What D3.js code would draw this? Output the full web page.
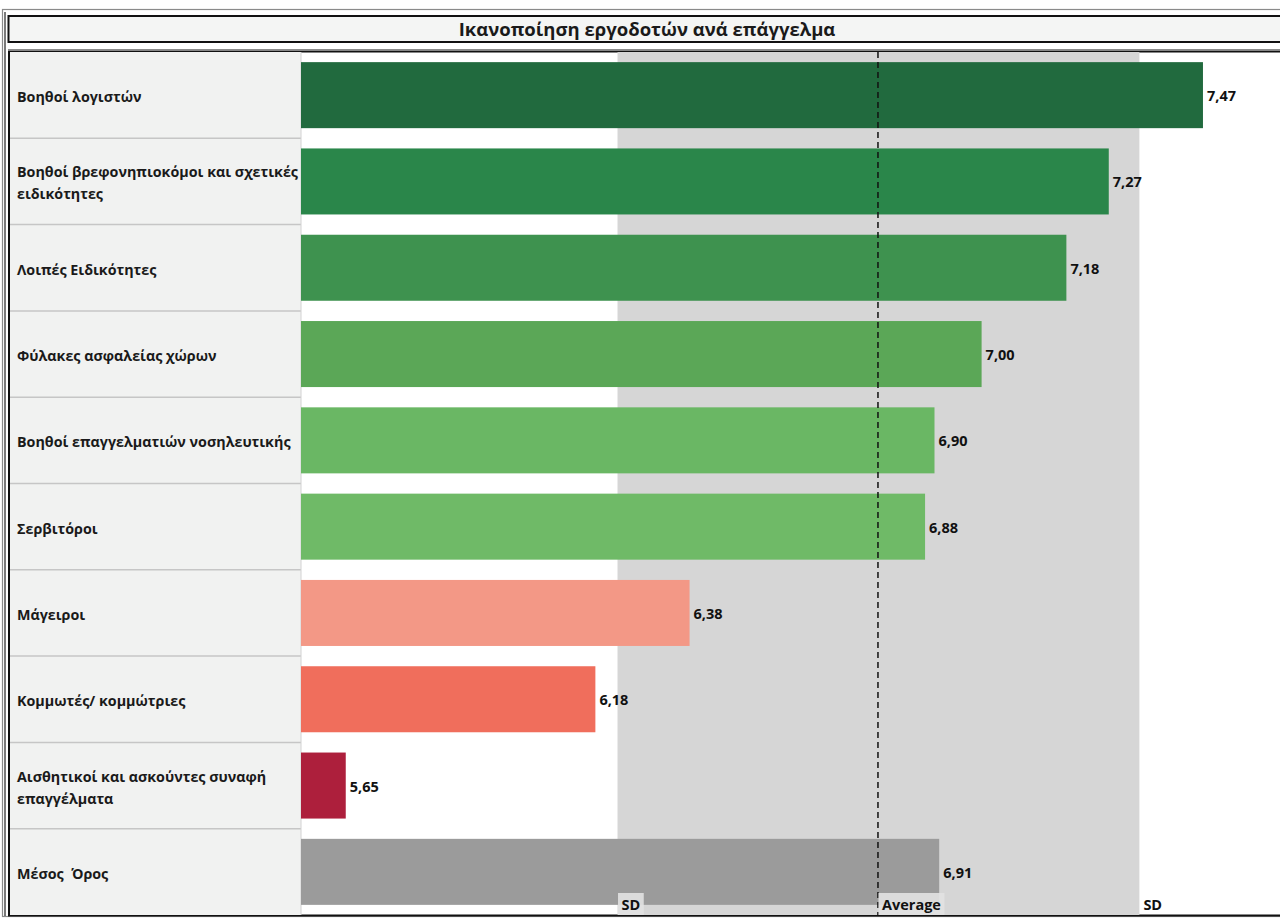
<!DOCTYPE html>
<html>
<head>
<meta charset="utf-8">
<script src="https://cdn.jsdelivr.net/npm/d3@7"></script>
<style>
  html, body { margin: 0; padding: 0; background: #ffffff; }
  svg { display: block; }
  text { font-family: "Open Sans", "Noto Sans", sans-serif; white-space: pre; }
</style>
</head>
<body>
<svg id="chart" width="1280" height="918"></svg>
<script>
// ---------- data ----------
const title = "Ικανοποίηση εργοδοτών ανά επάγγελμα";
const categories = [
  "Βοηθοί λογιστών",
  "Βοηθοί βρεφονηπιοκόμοι και σχετικές\nειδικότητες",
  "Λοιπές Ειδικότητες",
  "Φύλακες ασφαλείας χώρων",
  "Βοηθοί επαγγελματιών νοσηλευτικής",
  "Σερβιτόροι",
  "Μάγειροι",
  "Κομμωτές/ κομμώτριες",
  "Αισθητικοί και ασκούντες συναφή\nεπαγγέλματα",
  "Μέσος  Όρος"
];
const values = [7.47, 7.27, 7.18, 7.00, 6.90, 6.88, 6.38, 6.18, 5.65, 6.91];
const refLabels = ["SD", "Average", "SD"];
const refValues = [6.227, 6.78, 7.335];

// ---------- style ----------
const barColors = ["#216a3e", "#2a864a", "#3e924f", "#5ba757", "#6ab764", "#6fba67",
                   "#f39886", "#f06e5c", "#ad1f3c", "#9b9b9b"];

const svg = d3.select("#chart");
const W = 1280, H = 918;
const plotLeft = 301, plotTop = 52, plotBottom = 915;

const x = d3.scaleLinear().domain([5.555, 7.68]).range([plotLeft, plotLeft + 2.125 * 471]);
const y = d3.scaleBand().domain(categories).range([plotTop, plotBottom])
  .paddingInner(0.235).paddingOuter(0.1175);
const color = d3.scaleOrdinal().domain(categories).range(barColors);
const step = y.step();
const rowStart = c => y(c) - y.paddingInner() * step / 2;

// outer frame
svg.append("rect").attr("x", 2.5).attr("y", 9.5).attr("width", 1400).attr("height", 907)
  .attr("fill", "#ffffff").attr("stroke", "#8a8a8a").attr("stroke-width", 1.2);
svg.append("line").attr("x1", 5).attr("x2", 5).attr("y1", 12).attr("y2", 916)
  .attr("stroke", "#222").attr("stroke-width", 1.2);

// title box
svg.append("rect").attr("x", 8.5).attr("y", 16).attr("width", 1400).attr("height", 26)
  .attr("fill", "#f4f5f4").attr("stroke", "#111").attr("stroke-width", 2);
svg.append("text").attr("x", 647).attr("y", 36).attr("text-anchor", "middle")
  .attr("font-size", 18.5).attr("font-weight", 700).attr("fill", "#1a1a1a").text(title);

// panel
svg.append("line").attr("x1", 8).attr("x2", W).attr("y1", 49.5).attr("y2", 49.5)
  .attr("stroke", "#8a8a8a").attr("stroke-width", 1.2);
svg.append("rect").attr("x", 9).attr("y", 51.5).attr("width", 1400).attr("height", 864)
  .attr("fill", "#ffffff").attr("stroke", "#111").attr("stroke-width", 2);

// label column background
svg.append("rect").attr("x", 10).attr("y", plotTop).attr("width", plotLeft - 10)
  .attr("height", plotBottom - plotTop).attr("fill", "#f1f2f1");

// SD band
svg.append("rect").attr("x", x(refValues[0])).attr("y", plotTop)
  .attr("width", x(refValues[2]) - x(refValues[0])).attr("height", plotBottom - plotTop)
  .attr("fill", "#d6d6d6");

// row separators in label column
svg.append("g").selectAll("line").data(categories.slice(1)).join("line")
  .attr("x1", 10).attr("x2", plotLeft)
  .attr("y1", d => rowStart(d)).attr("y2", d => rowStart(d))
  .attr("stroke", "#c6c6c6").attr("stroke-width", 1.5);
svg.append("line").attr("x1", plotLeft).attr("x2", plotLeft).attr("y1", plotTop).attr("y2", plotBottom)
  .attr("stroke", "#d2d2d2").attr("stroke-width", 1);

// category labels
const lab = svg.append("g").selectAll("text").data(categories).join("text")
  .attr("x", 17)
  .attr("font-size", 14.3).attr("font-weight", 700).attr("fill", "#1a1a1a");
lab.each(function(d) {
  const lines = d.split("\n");
  const cy = y(d) + y.bandwidth() / 2;
  const lh = 22;
  const t = d3.select(this);
  lines.forEach((ln, i) => {
    t.append("tspan").attr("x", 17)
      .attr("y", cy + 7 + (i - (lines.length - 1) / 2) * lh)
      .text(ln);
  });
});

// bars
svg.append("g").selectAll("rect").data(categories).join("rect")
  .attr("x", x(x.domain()[0]))
  .attr("y", d => y(d))
  .attr("width", (d, i) => x(values[i]) - x(x.domain()[0]))
  .attr("height", y.bandwidth())
  .attr("fill", d => color(d));

// value labels
svg.append("g").selectAll("text").data(categories).join("text")
  .attr("x", (d, i) => x(values[i]) + 4)
  .attr("y", d => y(d) + y.bandwidth() / 2 + 6)
  .attr("font-size", 14.5).attr("font-weight", 700).attr("fill", "#111")
  .text((d, i) => d3.format(".2f")(values[i]).replace(".", ","));

// average dashed line
svg.append("line").attr("x1", x(refValues[1])).attr("x2", x(refValues[1]))
  .attr("y1", plotTop).attr("y2", plotBottom)
  .attr("stroke", "#111").attr("stroke-width", 1.5).attr("stroke-dasharray", "6,4");

// reference labels
const refG = svg.append("g").selectAll("g").data(refLabels).join("g")
  .attr("transform", (d, i) => `translate(${x(refValues[i])},${plotBottom - 22})`);
refG.append("rect").attr("x", 0.5).attr("y", 0).attr("height", 22)
  .attr("fill", (d, i) => i === 2 ? "none" : "#e2e2e2").attr("opacity", 0.9);
refG.append("text").attr("x", 4).attr("y", 17)
  .attr("font-size", 14.5).attr("font-weight", 700).attr("fill", "#111").text(d => d);
refG.each(function() {
  const g = d3.select(this);
  const w = g.select("text").node().getComputedTextLength();
  g.select("rect").attr("width", w + 7);
});
</script>
</body>
</html>
